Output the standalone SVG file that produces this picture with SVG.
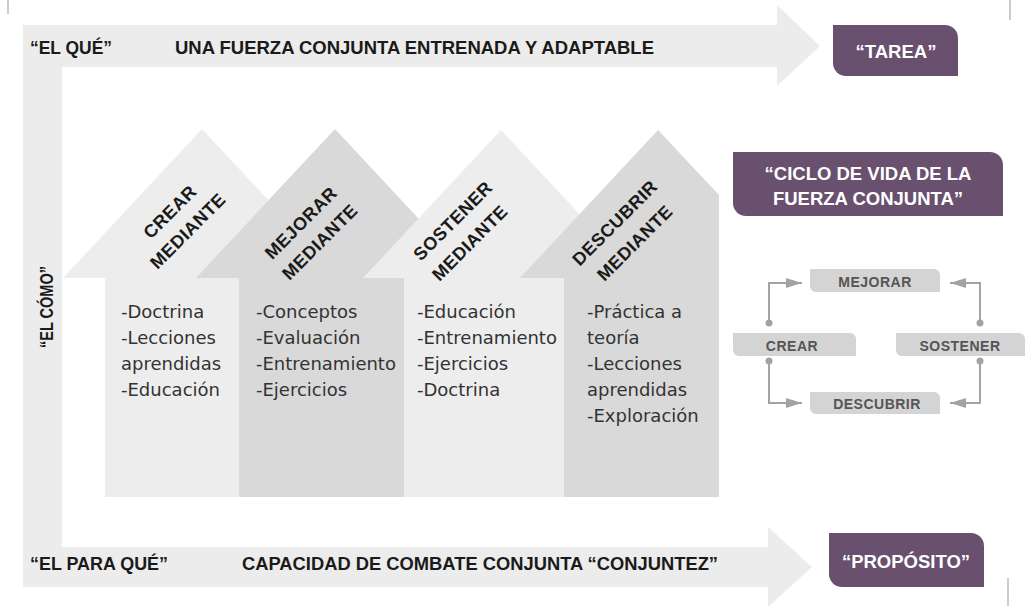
<svg xmlns="http://www.w3.org/2000/svg" width="1027" height="606" viewBox="0 0 1027 606">
<style>
.band{fill:#ececec}
.lt{fill:#ededed}
.dk{fill:#d9d9d9}
.purple{fill:#69506f}
.cyc{fill:#d4d4d4}
.hdr{font-family:"Liberation Sans",Arial,sans-serif;font-weight:bold;font-size:19px;fill:#1a1a1a}
.pt{font-family:"Liberation Sans",Arial,sans-serif;font-weight:bold;font-size:18.5px;fill:#ffffff;text-anchor:middle}
.rot{font-family:"Liberation Sans",Arial,sans-serif;font-weight:bold;font-size:18px;fill:#1a1a1a;text-anchor:middle;letter-spacing:0.5px}
.body{font-family:"DejaVu Sans",sans-serif;font-size:18px;fill:#333333}
.cl{font-family:"Liberation Sans",Arial,sans-serif;font-weight:bold;font-size:14px;fill:#555555;text-anchor:middle;letter-spacing:0.5px}
.conn{fill:none;stroke:#a3a3a3;stroke-width:2}
.dot{fill:#a3a3a3}
.edge{stroke:#cccccc;stroke-width:2}
</style>
<defs>
<marker id="ah" viewBox="0 0 16 10" refX="16" refY="5" markerWidth="16" markerHeight="10" markerUnits="userSpaceOnUse" orient="auto">
<path d="M0,0 L16,5 L0,10 Z" fill="#a3a3a3"/>
</marker>
</defs>

<g id="page-edges">
<line class="edge" x1="8" y1="0" x2="8" y2="14"/>
<line class="edge" x1="1010" y1="0" x2="1010" y2="20"/>
<line class="edge" x1="1008" y1="578" x2="1008" y2="606"/>
</g>

<g id="frame">
<polygon class="band" points="23,25 777,25 777,5 820,46 777,86 777,67 62,67 62,547 768,547 768,527 812,567 768,607 768,587 23,587"/>
<text class="hdr" x="30" y="54" textLength="82" lengthAdjust="spacingAndGlyphs">“EL QUÉ”</text>
<text class="hdr" x="175" y="54" textLength="479" lengthAdjust="spacingAndGlyphs">UNA FUERZA CONJUNTA ENTRENADA Y ADAPTABLE</text>
<text class="hdr" x="30" y="570" textLength="138" lengthAdjust="spacingAndGlyphs">“EL PARA QUÉ”</text>
<text class="hdr" x="242" y="570" textLength="476" lengthAdjust="spacingAndGlyphs">CAPACIDAD DE COMBATE CONJUNTA “CONJUNTEZ”</text>
<text class="hdr" transform="translate(53,307) rotate(-90)" text-anchor="middle" textLength="82" lengthAdjust="spacingAndGlyphs">“EL CÓMO”</text>
</g>

<g id="tarea">
<path class="purple" d="M833,25 H945 A13,13 0 0 1 958,38 V76 H846 A13,13 0 0 1 833,63 Z"/>
<text class="pt" x="896" y="58">“TAREA”</text>
</g>

<g id="proposito">
<path class="purple" d="M829,533 H971 A13,13 0 0 1 984,546 V587 H842 A13,13 0 0 1 829,574 Z"/>
<text class="pt" x="906" y="568">“PROPÓSITO”</text>
</g>

<g id="ciclo">
<path class="purple" d="M733,152 H990 A13,13 0 0 1 1003,165 V216 H746 A13,13 0 0 1 733,203 Z"/>
<text class="pt" x="868" y="180">“CICLO DE VIDA DE LA</text>
<text class="pt" x="868" y="205">FUERZA CONJUNTA”</text>
</g>

<g id="crear">
<polygon class="lt" points="63,278 202,129 341,278"/>
<rect class="lt" x="105" y="278" width="134" height="219"/>
<text class="rot" transform="translate(170,212) rotate(-45)" y="6">CREAR</text>
<text class="rot" transform="translate(188,231) rotate(-45)" y="6">MEDIANTE</text>
<text class="body" x="121" y="318">-Doctrina</text>
<text class="body" x="121" y="344">-Lecciones</text>
<text class="body" x="121" y="370">aprendidas</text>
<text class="body" x="121" y="396">-Educación</text>
</g>

<g id="mejorar">
<polygon class="dk" points="196,278 335,129 474,278"/>
<rect class="dk" x="239" y="278" width="165" height="219"/>
<text class="rot" transform="translate(301,223) rotate(-45)" y="6">MEJORAR</text>
<text class="rot" transform="translate(320,242) rotate(-45)" y="6">MEDIANTE</text>
<text class="body" x="256" y="318">-Conceptos</text>
<text class="body" x="256" y="344">-Evaluación</text>
<text class="body" x="256" y="370">-Entrenamiento</text>
<text class="body" x="256" y="396">-Ejercicios</text>
</g>

<g id="sostener">
<polygon class="lt" points="363,278 501,130 639,278"/>
<rect class="lt" x="404" y="278" width="160" height="219"/>
<text class="rot" transform="translate(453,221) rotate(-45)" y="6">SOSTENER</text>
<text class="rot" transform="translate(470,243) rotate(-45)" y="6">MEDIANTE</text>
<text class="body" x="417" y="318">-Educación</text>
<text class="body" x="417" y="344">-Entrenamiento</text>
<text class="body" x="417" y="370">-Ejercicios</text>
<text class="body" x="417" y="396">-Doctrina</text>
</g>

<g id="descubrir">
<polygon class="dk" points="520,278 658,130 719,195 719,497 564,497 564,278"/>
<text class="rot" transform="translate(615,223) rotate(-45)" y="6">DESCUBRIR</text>
<text class="rot" transform="translate(635,243) rotate(-45)" y="6">MEDIANTE</text>
<text class="body" x="587" y="318">-Práctica a</text>
<text class="body" x="587" y="344">teoría</text>
<text class="body" x="587" y="370">-Lecciones</text>
<text class="body" x="587" y="396">aprendidas</text>
<text class="body" x="587" y="422">-Exploración</text>
</g>

<g id="cyc-mejorar">
<path class="cyc" d="M810,269 H934 A6,6 0 0 1 940,275 V292 H816 A6,6 0 0 1 810,286 Z"/>
<text class="cl" x="875" y="287">MEJORAR</text>
</g>
<g id="cyc-crear">
<path class="cyc" d="M733,333 H850 A6,6 0 0 1 856,339 V356 H739 A6,6 0 0 1 733,350 Z"/>
<text class="cl" x="792" y="351">CREAR</text>
</g>
<g id="cyc-sostener">
<path class="cyc" d="M896,333 H1019 A6,6 0 0 1 1025,339 V356 H902 A6,6 0 0 1 896,350 Z"/>
<text class="cl" x="960" y="351">SOSTENER</text>
</g>
<g id="cyc-descubrir">
<path class="cyc" d="M810,392 H934 A6,6 0 0 1 940,398 V414 H816 A6,6 0 0 1 810,408 Z"/>
<text class="cl" x="877" y="409">DESCUBRIR</text>
</g>

<g id="connectors">
<path class="conn" d="M769,323 V283 H802" marker-end="url(#ah)"/>
<path class="conn" d="M980,323 V283 H950" marker-end="url(#ah)"/>
<path class="conn" d="M769,361 V403 H802" marker-end="url(#ah)"/>
<path class="conn" d="M980,361 V403 H950" marker-end="url(#ah)"/>
<circle class="dot" cx="769" cy="323" r="3.5"/>
<circle class="dot" cx="980" cy="323" r="3.5"/>
<circle class="dot" cx="769" cy="361" r="3.5"/>
<circle class="dot" cx="980" cy="361" r="3.5"/>
</g>
</svg>
